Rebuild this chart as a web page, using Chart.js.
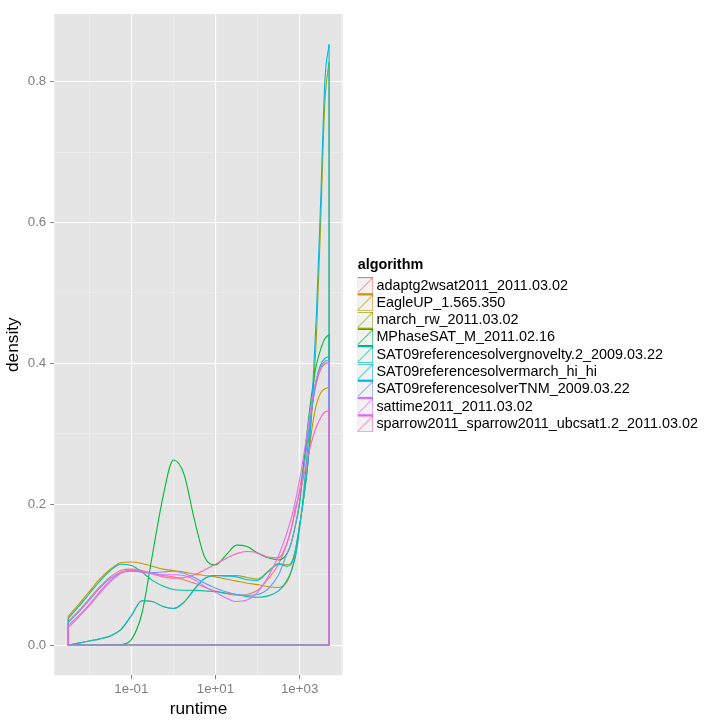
<!DOCTYPE html>
<html>
<head>
<meta charset="utf-8">
<script src="https://cdn.jsdelivr.net/npm/chart.js@4.4.0/dist/chart.umd.min.js"></script>
<style>
body { margin: 0; background: #fff; }
</style>
</head>
<body>
<canvas id="canvas" width="720" height="720"></canvas>
<script>
//////////////////////// data ////////////////////////
// log10(runtime) grid shared by all density curves
var logRuntime = [-2.5, -2.25, -2, -1.75, -1.5, -1.25, -1, -0.75, -0.5, -0.25, 0, 0.25, 0.5, 0.75, 1, 1.25,
                  1.5, 1.75, 2, 2.25, 2.5, 2.7, 2.8, 2.9, 3.0, 3.1, 3.2, 3.3, 3.4, 3.5, 3.6, 3.7];

var algorithms = [
    "adaptg2wsat2011_2011.03.02",
    "EagleUP_1.565.350",
    "march_rw_2011.03.02",
    "MPhaseSAT_M_2011.02.16",
    "SAT09referencesolvergnovelty.2_2009.03.22",
    "SAT09referencesolvermarch_hi_hi",
    "SAT09referencesolverTNM_2009.03.22",
    "sattime2011_2011.03.02",
    "sparrow2011_sparrow2011_ubcsat1.2_2011.03.02"
];
var colors = ["#F8766D", "#D39200", "#93AA00", "#00BA38", "#00C19F", "#00B9E3", "#619CFF", "#DB72FB", "#FF61C3"];

var adaptg2wsat = [0.034, 0.049, 0.066, 0.083, 0.097, 0.106, 0.108, 0.106, 0.102, 0.099, 0.097, 0.093, 0.088, 0.082, 0.077, 0.073,
                   0.071, 0.072, 0.078, 0.094, 0.115, 0.145, 0.165, 0.19, 0.22, 0.26, 0.30, 0.34, 0.372, 0.391, 0.399, 0.401];
var eagleUP     = [0.041, 0.058, 0.076, 0.094, 0.108, 0.117, 0.118, 0.116, 0.112, 0.108, 0.106, 0.104, 0.101, 0.099, 0.097, 0.094,
                   0.091, 0.088, 0.086, 0.083, 0.082, 0.09, 0.105, 0.13, 0.17, 0.21, 0.262, 0.31, 0.342, 0.358, 0.364, 0.366];
var marchRw     = [0, 0.003, 0.006, 0.009, 0.013, 0.022, 0.042, 0.063, 0.062, 0.055, 0.052, 0.061, 0.08, 0.095, 0.099, 0.099,
                   0.099, 0.096, 0.094, 0.105, 0.116, 0.114, 0.117, 0.135, 0.17, 0.21, 0.26, 0.34, 0.44, 0.6, 0.77, 0.828];
var mphaseSAT   = [0, 0, 0, 0, 0, 0.001, 0.008, 0.045, 0.128, 0.21, 0.263, 0.243, 0.178, 0.124, 0.114, 0.128,
                   0.142, 0.14, 0.131, 0.124, 0.121, 0.13, 0.145, 0.17, 0.2, 0.258, 0.315, 0.362, 0.398, 0.42, 0.435, 0.441];
var gnovelty    = [0.038, 0.055, 0.073, 0.091, 0.106, 0.115, 0.113, 0.104, 0.092, 0.084, 0.079, 0.078, 0.078, 0.077, 0.076, 0.074,
                   0.072, 0.069, 0.068, 0.07, 0.077, 0.092, 0.105, 0.125, 0.165, 0.22, 0.285, 0.34, 0.378, 0.398, 0.407, 0.41];
var marchHiHi   = [0, 0.003, 0.006, 0.009, 0.013, 0.022, 0.042, 0.063, 0.062, 0.055, 0.052, 0.061, 0.079, 0.095, 0.099, 0.098,
                   0.097, 0.093, 0.092, 0.104, 0.115, 0.112, 0.115, 0.135, 0.17, 0.21, 0.26, 0.35, 0.47, 0.63, 0.80, 0.853];
var tnm         = [0.032, 0.047, 0.064, 0.081, 0.095, 0.103, 0.105, 0.104, 0.103, 0.104, 0.105, 0.102, 0.096, 0.088, 0.081, 0.076,
                   0.072, 0.071, 0.072, 0.08, 0.1, 0.13, 0.145, 0.17, 0.205, 0.25, 0.295, 0.34, 0.375, 0.395, 0.403, 0.405];
var sattime     = [0.028, 0.042, 0.058, 0.076, 0.092, 0.103, 0.107, 0.105, 0.102, 0.1, 0.1, 0.099, 0.093, 0.083, 0.075, 0.067,
                   0.062, 0.064, 0.075, 0.097, 0.127, 0.16, 0.18, 0.205, 0.235, 0.27, 0.31, 0.35, 0.378, 0.394, 0.4, 0.401];
var sparrow     = [0.025, 0.04, 0.056, 0.074, 0.09, 0.102, 0.106, 0.104, 0.101, 0.097, 0.095, 0.096, 0.1, 0.107, 0.115, 0.123,
                   0.13, 0.133, 0.131, 0.125, 0.124, 0.145, 0.165, 0.195, 0.215, 0.24, 0.268, 0.292, 0.31, 0.323, 0.331, 0.333];

var densities = [adaptg2wsat, eagleUP, marchRw, mphaseSAT, gnovelty, marchHiHi, tnm, sattime, sparrow];

var xTicks = [-2, -1, 0, 1, 2, 3, 4];          // odd ones are labelled (1e-01, 1e+01, 1e+03)
var yTicks = [0, 0.1, 0.2, 0.3, 0.4, 0.5, 0.6, 0.7, 0.8];

//////////////////////// helpers ////////////////////////
function makeKey(color){
    var c = document.createElement("canvas");
    c.width = 17; c.height = 17;
    var g = c.getContext("2d");
    g.fillStyle = "#F2F2F2";
    g.fillRect(0, 0, 17, 17);
    g.strokeStyle = color;
    g.lineWidth = 1;
    g.strokeRect(0.5, 0.5, 16, 16);
    g.beginPath();
    g.moveTo(0.5, 16.5);
    g.lineTo(16.5, 0.5);
    g.stroke();
    return c;
}
var keys = colors.map(makeKey);

function isMajor(v){ return Math.abs(Math.round(v)) % 2 === 1; }
function isEvenTenth(v){ return Math.round(v * 10) % 2 === 0; }

var datasets = [];
var n = densities.length;
var x0 = logRuntime[0], xN = logRuntime[logRuntime.length - 1];
densities.forEach(function(d, i){
    // the smoothed density curve
    datasets.push({
        label: algorithms[i],
        data: logRuntime.map(function(x, k){ return {x: x, y: d[k]}; }),
        borderColor: colors[i],
        borderWidth: 1.1,
        pointRadius: 0,
        fill: false,
        cubicInterpolationMode: "monotone",
        order: n - i
    });
    // the polygon outline: sides and baseline
    datasets.push({
        label: algorithms[i] + " outline",
        data: [{x: x0, y: d[0]}, {x: x0, y: 0}, {x: xN, y: 0}, {x: xN, y: d[d.length - 1]}],
        borderColor: colors[i],
        borderWidth: 1.1,
        pointRadius: 0,
        fill: false,
        tension: 0,
        order: n - i
    });
});

var panelBg = {
    id: "panelBg",
    beforeDraw: function(chart){
        var a = chart.chartArea, ctx = chart.ctx;
        ctx.save();
        ctx.fillStyle = "#E5E5E5";
        ctx.fillRect(a.left, a.top, a.right - a.left, a.bottom - a.top);
        ctx.restore();
    }
};

var font = "'Liberation Sans', Arial, sans-serif";

//////////////////////// chart ////////////////////////
var ctx = document.getElementById("canvas").getContext("2d");
var chart = new Chart(ctx, {
    type: "line",
    data: { datasets: datasets },
    plugins: [panelBg],
    options: {
        responsive: false,
        animation: false,
        layout: { padding: { left: 3, top: 14, right: 12, bottom: 0 } },
        plugins: {
            tooltip: { enabled: false },
            legend: {
                position: "right",
                align: "center",
                fullSize: false,
                maxWidth: 400,
                title: {
                    display: true,
                    text: "algorithm",
                    color: "#000",
                    position: "start",
                    font: { family: font, size: 14.4, weight: "bold" },
                    padding: { top: 3, bottom: 0 }
                },
                labels: {
                    color: "#000",
                    font: { family: font, size: 14.4 },
                    usePointStyle: true,
                    pointStyleWidth: 8.6,
                    padding: 2.9,
                    generateLabels: function(chart){
                        return algorithms.map(function(name, i){
                            return {
                                text: name,
                                pointStyle: keys[i],
                                strokeStyle: colors[i],
                                fillStyle: colors[i],
                                lineWidth: 0,
                                hidden: false,
                                datasetIndex: i * 2
                            };
                        });
                    }
                }
            }
        },
        scales: {
            x: {
                type: "linear",
                min: -2.833,
                max: 4.024,
                afterBuildTicks: function(axis){
                    axis.ticks = xTicks.map(function(v){ return {value: v}; });
                },
                ticks: {
                    color: "#7F7F7F",
                    font: { family: font, size: 13.3 },
                    padding: 2,
                    maxRotation: 0,
                    autoSkip: false,
                    callback: function(v){
                        if (!isMajor(v)) return "";
                        return "1e" + (v < 0 ? "-" : "+") + ("0" + Math.abs(v)).slice(-2);
                    }
                },
                grid: {
                    color: function(c){ return isMajor(c.tick.value) ? "#FFFFFF" : "#F2F2F2"; },
                    lineWidth: function(c){ return isMajor(c.tick.value) ? 1.1 : 0.55; },
                    tickColor: function(c){ return isMajor(c.tick.value) ? "#7F7F7F" : "rgba(0,0,0,0)"; },
                    tickLength: 4,
                    tickWidth: 1
                },
                border: { display: false },
                title: {
                    display: true,
                    text: "runtime",
                    color: "#000",
                    font: { family: font, size: 17.3 },
                    padding: { top: 0, bottom: 0 }
                }
            },
            y: {
                type: "linear",
                min: -0.0427,
                max: 0.896,
                afterBuildTicks: function(axis){
                    axis.ticks = yTicks.map(function(v){ return {value: v}; });
                },
                ticks: {
                    color: "#7F7F7F",
                    font: { family: font, size: 13.3 },
                    padding: 4,
                    autoSkip: false,
                    callback: function(v){
                        return isEvenTenth(v) ? v.toFixed(1) : "";
                    }
                },
                grid: {
                    color: function(c){ return isEvenTenth(c.tick.value) ? "#FFFFFF" : "#F2F2F2"; },
                    lineWidth: function(c){ return isEvenTenth(c.tick.value) ? 1.1 : 0.55; },
                    tickColor: function(c){ return isEvenTenth(c.tick.value) ? "#7F7F7F" : "rgba(0,0,0,0)"; },
                    tickLength: 4,
                    tickWidth: 1
                },
                border: { display: false },
                title: {
                    display: true,
                    text: "density",
                    color: "#000",
                    font: { family: font, size: 17.3 },
                    padding: { top: 0, bottom: 0 }
                }
            },
            // empty strip between the panel and the legend
            gap: {
                type: "linear",
                position: "right",
                display: true,
                ticks: { display: false },
                grid: { display: false, drawTicks: false },
                border: { display: false },
                afterFit: function(axis){ axis.width = 15; }
            }
        }
    }
});
</script>
</body>
</html>
